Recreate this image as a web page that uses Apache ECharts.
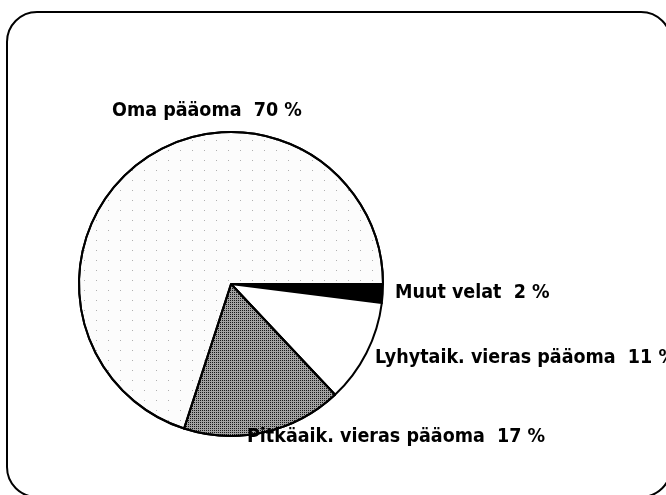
<!DOCTYPE html>
<html>
<head>
<meta charset="utf-8">
<script src="https://cdn.jsdelivr.net/npm/echarts@6/dist/echarts.min.js"></script>
<style>
  html, body { margin: 0; padding: 0; background: #fff; }
  #chart { width: 666px; height: 495px; }
</style>
</head>
<body>
<div id="chart"></div>
<script>
// DATA
var nimet = ["Muut velat", "Lyhytaik. vieras pääoma", "Pitkäaik. vieras pääoma", "Oma pääoma"];
var osuudet = [2, 11, 17, 70];

// where each label sits (text placement only)
var labelPaikat = [
  { x: 395, y: 293 },
  { x: 375, y: 358 },
  { x: 247, y: 437 },
  { x: 112, y: 111 }
];

var tyylit = [
  { color: "#000000" },
  { color: "#ffffff" },
  {
    color: "#a2a2a2",
    decal: { symbol: "rect", symbolSize: 1, dashArrayX: [1, 1], dashArrayY: [1, 1], color: "rgba(0,0,0,0.85)" }
  },
  {
    color: "#fcfcfc",
    decal: { symbol: "rect", symbolSize: 1, dashArrayX: [1, 11], dashArrayY: [1, 9], color: "rgba(0,0,0,0.3)" }
  }
];

var data = [];
for (var i = 0; i < nimet.length; i++) {
  data.push({
    name: nimet[i],
    value: osuudet[i],
    itemStyle: tyylit[i]
  });
}

// CHART
var chart = echarts.init(document.getElementById("chart"));

chart.setOption({
  animation: false,
  graphic: [{
    type: "rect",
    shape: { x: 7, y: 12, width: 664, height: 485, r: 30 },
    style: { fill: "none", stroke: "#000", lineWidth: 2 },
    silent: true
  }],
  series: [{
    type: "pie",
    center: [231, 284],
    radius: 152,
    startAngle: 0,
    clockwise: true,
    data: data,
    itemStyle: { borderColor: "#000", borderWidth: 2 },
    emphasis: { disabled: true },
    label: {
      show: true,
      position: "outside",
      formatter: "{b}  {c} %",
      color: "#000",
      fontFamily: "'Liberation Sans Narrow', 'DejaVu Sans Condensed', sans-serif",
      fontWeight: "bold",
      fontSize: 19.5,
      overflow: "none"
    },
    labelLine: { show: false },
    labelLayout: function (params) {
      var p = labelPaikat[params.dataIndex];
      return { x: p.x, y: p.y, align: "left", verticalAlign: "middle", width: 400 };
    }
  }]
});
</script>
</body>
</html>
